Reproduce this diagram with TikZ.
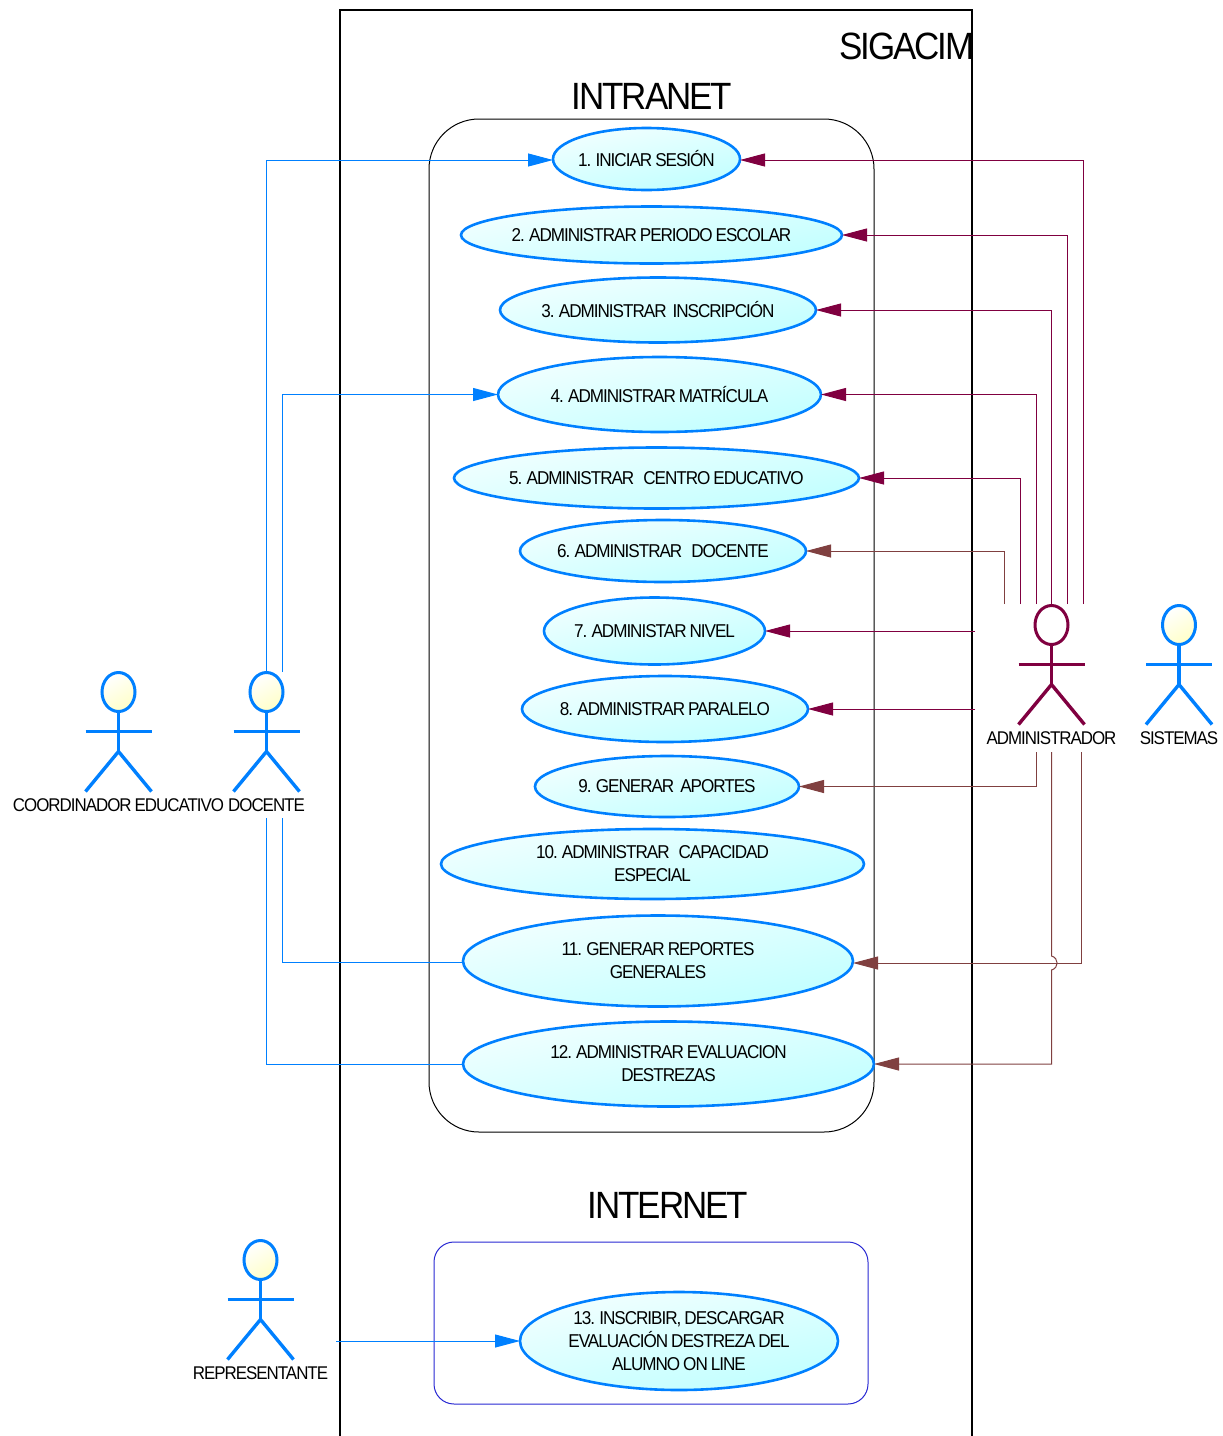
\documentclass[tikz,border=0pt]{standalone}
\usepackage{fontspec}
\setmainfont[LetterSpace=-5.5,FakeStretch=0.92,WordSpace=0.8]{Liberation Sans}
\usetikzlibrary{shapes.geometric, arrows.meta, positioning}
\definecolor{actorblue}{HTML}{0080FF}
\definecolor{adminwine}{HTML}{800040}
\definecolor{adminbrown}{HTML}{804040}
\definecolor{uctop}{HTML}{F2FFFF}
\definecolor{ucfill}{HTML}{C0FFFF}
\definecolor{headfill}{HTML}{FFFFC8}
\tikzstyle{usecase} = [ellipse, inner xsep=-40pt, inner ysep=0pt, outer sep=0pt, line width=2.6pt, draw=actorblue, text=black, align=center, font=\fontsize{18.6pt}{23pt}\selectfont, top color=uctop, bottom color=ucfill, shading angle=12]
\tikzstyle{zonebox} = [rectangle, rounded corners=50pt, draw=black, line width=1pt]
\tikzstyle{title} = [font=\fontsize{38pt}{44pt}\selectfont]
\tikzstyle{actorname} = [font=\fontsize{18.4pt}{23pt}\selectfont, inner sep=0pt]
\tikzstyle{bluehead} = [top color=white, bottom color=headfill, shading angle=30]
\tikzstyle{winehead} = [fill=white]
\tikzstyle{bluelink} = [line width=1pt, draw=actorblue]
\tikzstyle{winelink} = [line width=1pt, draw=adminwine]
\tikzstyle{brownlink} = [line width=1pt, draw=adminbrown]
\tikzstyle{bluearrow} = [bluelink, -{Triangle[length=25pt,width=13pt]}, color=actorblue]
\tikzstyle{winearrow} = [winelink, -{Triangle[length=25pt,width=13pt]}, color=adminwine]
\tikzstyle{brownarrow} = [brownlink, -{Triangle[length=25pt,width=13pt]}, color=adminbrown]
% name, x, y of head, colour, head style, label
\newcommand{\stickman}[6]{
  \node (#1) [ellipse, draw=#4, #5, line width=3pt, inner sep=0pt, outer sep=0pt, minimum width=33pt, minimum height=39pt] at (#2,#3) {};
  \draw [draw=#4, line width=3.4pt] (#1.south) -- ++(0,40);
  \draw [draw=#4, line width=3.4pt] (#1.south) ++(-33,20) -- ++(66,0);
  \draw [draw=#4, line width=3.4pt] (#1.south) ++(-33,80) -- ++(33,-40) -- ++(33,40);
  \node (#1name) [actorname, below of=#1, node distance=113pt] {#6};
}

\begin{document}
\begin{tikzpicture}[x=1pt, y=-1pt, node distance=80pt]
\useasboundingbox (0,0) rectangle (1223,1436);

% System frame
\node (sigacim) [title] at (907,46) {SIGACIM};
\coordinate (frameleft) at (340,1436);
\coordinate (frameright) at (972,1436);
\draw [line width=2pt] (frameleft) |- (frameright |- 0,10) -- (frameright);

% Zones
\node (intranetzone) [zonebox, minimum width=445pt, minimum height=1013pt] at (651.5,625.5) {};
\node (internetzone) [zonebox, rounded corners=20pt, draw={rgb,255:red,40;green,40;blue,210}, minimum width=434pt, minimum height=162pt] at (651,1323) {};
\node (intranet) [title] at (652,96) {INTRANET};
\node (internet) [title] at (668,1205) {INTERNET};

% Use cases
\node (uc1) [usecase, minimum width=187pt, minimum height=62pt] at (646.5,159) {1. INICIAR SESIÓN};
\node (uc2) [usecase, below of=uc1, xshift=5pt, yshift=4pt, minimum width=381pt, minimum height=57pt] {2. ADMINISTRAR PERIODO ESCOLAR};
\node (uc3) [usecase, below of=uc2, xshift=6.5pt, yshift=5pt, minimum width=316pt, minimum height=65pt] {3. ADMINISTRAR~~INSCRIPCIÓN};
\node (uc4) [usecase, below of=uc3, xshift=1.5pt, yshift=-4.5pt, minimum width=323pt, minimum height=75pt] {4. ADMINISTRAR MATRÍCULA};
\node (uc5) [usecase, below of=uc4, xshift=-3pt, yshift=-3.5pt, minimum width=405pt, minimum height=61pt] {5. ADMINISTRAR~~~CENTRO EDUCATIVO};
\node (uc6) [usecase, below of=uc5, xshift=6.5pt, yshift=7pt, minimum width=286pt, minimum height=62pt] {6. ADMINISTRAR~~~DOCENTE};
\node (uc7) [usecase, below of=uc6, xshift=-8.5pt, minimum width=221pt, minimum height=67pt] {7. ADMINISTAR NIVEL};
\node (uc8) [usecase, below of=uc7, xshift=10.5pt, yshift=2pt, minimum width=286pt, minimum height=66pt] {8. ADMINISTRAR PARALELO};
\node (uc9) [usecase, below of=uc8, xshift=2pt, yshift=2.5pt, minimum width=264pt, minimum height=61pt] {9. GENERAR~~APORTES};
\node (uc10) [usecase, below of=uc9, xshift=-14.5pt, yshift=2.5pt, minimum width=423pt, minimum height=70pt] {10. ADMINISTRAR~~~CAPACIDAD\\ESPECIAL};
\node (uc11) [usecase, below of=uc10, xshift=5.5pt, yshift=-17pt, minimum width=390pt, minimum height=91pt] {11. GENERAR REPORTES\\GENERALES};
\node (uc12) [usecase, below of=uc11, xshift=10.5pt, yshift=-23pt, minimum width=411pt, minimum height=85pt] {12. ADMINISTRAR EVALUACION\\DESTREZAS};
\node (uc13) [usecase, below of=uc12, xshift=10.5pt, yshift=-197pt, minimum width=318pt, minimum height=98pt] {13. INSCRIBIR, DESCARGAR\\EVALUACIÓN DESTREZA DEL\\ALUMNO ON LINE};

% Actors
\stickman{coordinador}{118.5}{692}{actorblue}{bluehead}{COORDINADOR EDUCATIVO}
\stickman{docente}{266.5}{692}{actorblue}{bluehead}{DOCENTE}
\stickman{representante}{260.5}{1260}{actorblue}{bluehead}{REPRESENTANTE}
\stickman{administrador}{1051.5}{625}{adminwine}{winehead}{ADMINISTRADOR}
\stickman{sistemas}{1179}{625}{actorblue}{bluehead}{SISTEMAS}

% Free ends beside the actors
\coordinate (doc_a) at (266.5,672);
\coordinate (doc_b) at (282.5,672);
\coordinate (doc_c) at (282.5,818);
\coordinate (doc_d) at (266.5,818);
\coordinate (rep_a) at (336,1341);
\coordinate (adm_1) at (1083,604);
\coordinate (adm_2) at (1067,604);
\coordinate (adm_3) at (1051.5,604);
\coordinate (adm_4) at (1036,604);
\coordinate (adm_5) at (1020,604);
\coordinate (adm_6) at (1004,604);
\coordinate (adm_7) at (975,631);
\coordinate (adm_8) at (975,709);
\coordinate (adm_9) at (1036,752);
\coordinate (adm_11) at (1081,752);
\coordinate (adm_12) at (1051.5,752);
\coordinate (jump_a) at (1051.5,956);
\coordinate (jump_b) at (1051.5,970);

% Arrows
\draw [bluearrow] (doc_a) |- ([yshift=-1pt]uc1.west);
\draw [bluearrow] (doc_b) |- (uc4);
\draw [bluelink] (doc_c) |- ([yshift=-1pt]uc11.west);
\draw [bluelink] (doc_d) |- (uc12);
\draw [bluearrow] (rep_a) -- (uc13);

\draw [winearrow] (adm_1) |- ([yshift=-1pt]uc1.east);
\draw [winearrow] (adm_2) |- (uc2);
\draw [winearrow] (adm_3) |- (uc3);
\draw [winearrow] (adm_4) |- (uc4);
\draw [winearrow] (adm_5) |- (uc5);
\draw [brownarrow] (adm_6) |- (uc6);
\draw [winearrow] (adm_7) -- (uc7);
\draw [winearrow] (adm_8) -- (uc8);
\draw [brownarrow] (adm_9) |- (uc9);
\draw [brownarrow] (adm_11) |- ([yshift=-2pt]uc11.east);
\draw [brownarrow] (adm_12) -- (jump_a) .. controls (1059,958) and (1059,968) .. (jump_b) |- (uc12);

\end{tikzpicture}
\end{document}
